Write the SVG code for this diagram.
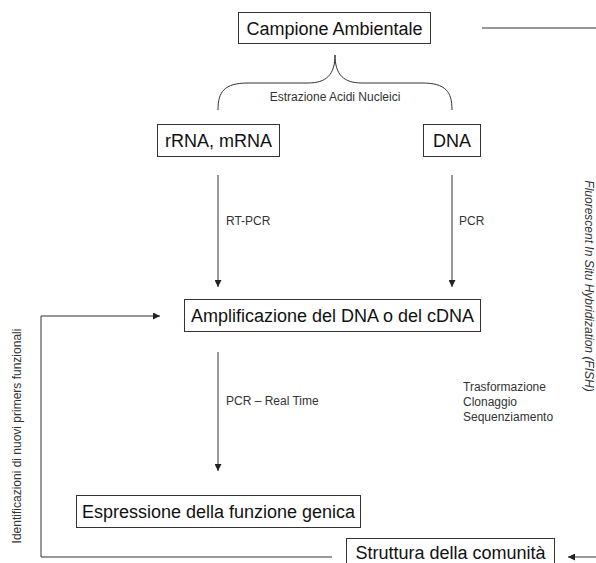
<svg xmlns="http://www.w3.org/2000/svg" width="596" height="563" viewBox="0 0 596 563">
<style>
.box{fill:#fff;stroke:#333;stroke-width:1}
.t{font-family:"Liberation Sans",Arial,sans-serif;font-size:18px;fill:#111}
.s{font-family:"Liberation Sans",Arial,sans-serif;font-size:12px;fill:#333}
.ln{fill:none;stroke:#333;stroke-width:1}
</style>
<defs>
<marker id="ah" viewBox="0 0 10 10" refX="10" refY="5" markerWidth="7" markerHeight="7" markerUnits="userSpaceOnUse" orient="auto">
<path d="M0,0 L10,5 L0,10 z" fill="#222"/>
</marker>
</defs>
<rect width="596" height="563" fill="#fff"/>
<g id="connectors">
<line class="ln" x1="482" y1="28" x2="596" y2="28"/>
<path class="ln" d="M218,110 C218,92 224,83 248,83 L308,83 C326,83 335,75 335,55 C335,75 344,83 362,83 L422,83 C446,83 452,92 452,110"/>
<line class="ln" x1="218" y1="175" x2="218" y2="287" marker-end="url(#ah)"/>
<line class="ln" x1="452" y1="175" x2="452" y2="287" marker-end="url(#ah)"/>
<line class="ln" x1="218" y1="352" x2="218" y2="471" marker-end="url(#ah)"/>
<path class="ln" d="M332,557 L41,557 L41,316 L160,316" marker-end="url(#ah)"/>
<line class="ln" x1="596" y1="557" x2="568" y2="557" marker-end="url(#ah)"/>
<text class="s" x="335" y="101" text-anchor="middle">Estrazione Acidi Nucleici</text>
<text class="s" x="226" y="225">RT-PCR</text>
<text class="s" x="459" y="225">PCR</text>
<text class="s" x="226" y="405">PCR – Real Time</text>
<text class="s" x="463" y="391">Trasformazione</text>
<text class="s" x="463" y="406">Clonaggio</text>
<text class="s" x="463" y="421">Sequenziamento</text>
<text class="s" transform="translate(21,436) rotate(-90)" text-anchor="middle">Identificazioni di nuovi primers funzionali</text>
<text class="s" transform="translate(585,286) rotate(90)" text-anchor="middle" font-style="italic">Fluorescent In Situ Hybridization (FISH)</text>
</g>
<g id="campione">
<rect class="box" x="238.5" y="12.5" width="192" height="31"/>
<text class="t" x="334.5" y="35" text-anchor="middle">Campione Ambientale</text>
</g>
<g id="rna">
<rect class="box" x="157.5" y="124.5" width="122" height="32"/>
<text class="t" x="218.5" y="147" text-anchor="middle">rRNA, mRNA</text>
</g>
<g id="dna">
<rect class="box" x="423.5" y="124.5" width="57" height="32"/>
<text class="t" x="452" y="147" text-anchor="middle">DNA</text>
</g>
<g id="amplificazione">
<rect class="box" x="184.5" y="299.5" width="296" height="32"/>
<text class="t" x="332.5" y="322" text-anchor="middle">Amplificazione del DNA o del cDNA</text>
</g>
<g id="espressione">
<rect class="box" x="76.5" y="495.5" width="284" height="32"/>
<text class="t" x="218.5" y="518" text-anchor="middle">Espressione della funzione genica</text>
</g>
<g id="struttura">
<rect class="box" x="346.5" y="538.5" width="208" height="32"/>
<text class="t" x="450.5" y="559" text-anchor="middle">Struttura della comunità</text>
</g>
</svg>
